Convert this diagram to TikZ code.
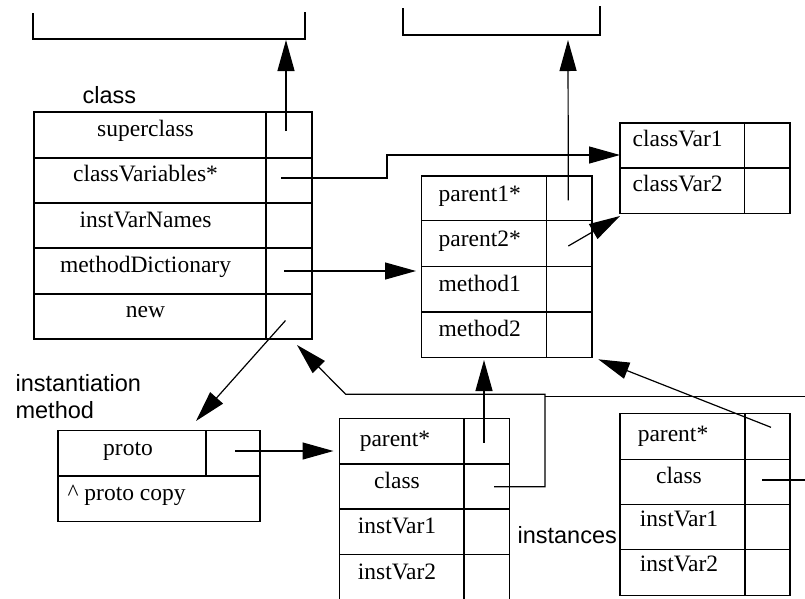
\documentclass[tikz,border=0pt]{standalone}
\usepackage{fontspec}
\setmainfont{Liberation Serif}
\setsansfont{Liberation Sans}
\usetikzlibrary{arrows.meta}

\begin{document}
\begin{tikzpicture}[x=1pt, y=-1pt, line width=1.2pt,
  >={Triangle[length=31pt,width=17pt]},
  field/.style={anchor=base, inner sep=0pt, font=\fontsize{23.5}{26.7}\selectfont},
  lfield/.style={field, anchor=base west},
  tag/.style={anchor=base west, inner sep=0pt, align=left, font=\sffamily\fontsize{23.5}{26.7}\selectfont}]
\useasboundingbox (0,0) rectangle (805,598);

% open boxes at the top
\draw (33,13) -- (33,39) -- (305,39) -- (305,12);
\draw (403,8) -- (403,35) -- (600,35) -- (600,6);
\coordinate (supbox) at (286,40);
\coordinate (parbox) at (568,40);

% the class
\node [tag] (lblclass) at (82,103) {class};
\draw (34,112) rectangle (312,339);
\draw (266,112) -- (266,339);
\draw (34,158) -- (312,158) (34,203) -- (312,203) (34,248) -- (312,248) (34,294) -- (312,294);
\node [field] (superclass) at (145.5,136.5) {superclass};
\node [field] (classvars) at (145.5,181.7) {classVariables*};
\node [field] (instvarnames) at (145.5,227) {instVarNames};
\node [field] (methoddict) at (145.5,272.5) {methodDictionary};
\node [field] (new) at (145.5,317.7) {new};
\coordinate (p-super) at (286,131);
\coordinate (p-cvars) at (281,178);
\coordinate (p-mdict) at (284,271);
\coordinate (p-new) at (285.5,320.5);
\coordinate (clsbox) at (297,345);

% class variables
\draw (620,123) rectangle (790,213.3);
\draw (744.7,123) -- (744.7,213.3) (620,168) -- (790,168);
\node [lfield] (classvar1) at (632,146.7) {classVar1};
\node [lfield] (classvar2) at (632,191.5) {classVar2};
\coordinate (cvbox) at (620,155);
\coordinate (cvcorner) at (620,216);

% method dictionary
\draw (421.7,176) rectangle (592,357.3);
\draw (546.3,176) -- (546.3,357.3);
\draw (421.7,220.7) -- (592,220.7) (421.7,266.3) -- (592,266.3) (421.7,312) -- (592,312);
\node [lfield] (parent1) at (438,201) {parent1*};
\node [lfield] (parent2) at (438,246) {parent2*};
\node [lfield] (method1) at (438,291.3) {method1};
\node [lfield] (method2) at (438,336) {method2};
\coordinate (p-par1) at (568.3,200.3);
\coordinate (p-par2) at (568.3,246);
\coordinate (mdbox) at (416,271);
\coordinate (mdbottom) at (484,360);
\coordinate (mdcorner) at (598.3,359.3);

% instantiation method
\node [tag] (lblinst) at (15,418.3) {instantiation\\method};
\draw (58,430.5) rectangle (260,521.3);
\draw (206,430.5) -- (206,476) (58,476) -- (260,476);
\node [field] (proto) at (128,455) {proto};
\node [lfield] (protocopy) at (67,500) {\textasciicircum{} proto copy};
\coordinate (p-proto) at (235.3,451);
\coordinate (protobox) at (196,421);

% first instance
\draw (339.3,418.5) rectangle (509.5,600);
\draw (464,418.5) -- (464,600);
\draw (339.3,464) -- (509.5,464) (339.3,509) -- (509.5,509) (339.3,554.3) -- (509.5,554.3);
\node [field] (parent-a) at (395,446) {parent*};
\node [field] (class-a) at (397,488.5) {class};
\node [field] (ivone-a) at (397,533.3) {instVar1};
\node [field] (ivtwo-a) at (397,579) {instVar2};
\coordinate (p-par-a) at (484,442.7);
\coordinate (p-cls-a) at (494,486.7);
\coordinate (instbox) at (333.5,451);

% second instance
\draw (620,413.7) rectangle (790,595.3);
\draw (745,413.7) -- (745,595.3);
\draw (620,459.3) -- (790,459.3) (620,504.5) -- (790,504.5) (620,549.8) -- (790,549.8);
\node [field] (parent-b) at (673,441.7) {parent*};
\node [field] (class-b) at (679,483.3) {class};
\node [field] (ivone-b) at (679,526.7) {instVar1};
\node [field] (ivtwo-b) at (679,571.7) {instVar2};
\coordinate (p-par-b) at (771,427.3);
\coordinate (p-cls-b) at (762.3,480);

\node [tag] (lblinstances) at (517,543) {instances};

% pointers
\draw [->] (p-super) -- (supbox);
\draw [->] (p-cvars) -- ++(106,0) |- (cvbox);
\draw [->] (p-mdict) -- (mdbox);
\draw [->] (p-new) -- (protobox);
\draw [->] (p-proto) -- (instbox);
\draw [->] (p-par1) -- (parbox);
\draw [->] (p-par2) -- (cvcorner);
\draw [->] (p-par-a) -- (mdbottom);
\draw [->] (p-cls-a) -- (545,486.7) -- (545,394.3) -- (345.7,394.3) -- (clsbox);
\draw (545,396.7) -- (806,396.7);
\draw [->] (p-par-b) -- (mdcorner);
\draw (p-cls-b) -- (806,480);
\end{tikzpicture}
\end{document}
